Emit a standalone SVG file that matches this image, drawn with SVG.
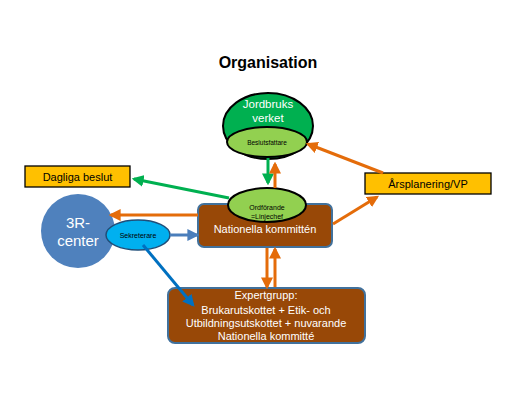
<svg xmlns="http://www.w3.org/2000/svg" width="520" height="408" viewBox="0 0 520 408">
<defs>
<style>
text{font-family:"Liberation Sans",Arial,sans-serif;text-anchor:middle}
.w{fill:#fff}
.k{fill:#000}
.c{stroke-width:3;fill:none}
.or{stroke:#E46C0A}
.gr{stroke:#00B050}
.bl{stroke:#4A7EBB}
.db{stroke:#0070C0}
.box{fill:#984807;stroke:#41719C;stroke-width:2}
.yb{fill:#FFC000;stroke:#000;stroke-width:1.3}
</style>
<marker id="ao" viewBox="0 0 10 10" refX="8" refY="5" markerWidth="4" markerHeight="4" orient="auto"><path d="M0,0L10,5L0,10z" fill="#E46C0A"/></marker>
<marker id="ag" viewBox="0 0 10 10" refX="8" refY="5" markerWidth="4" markerHeight="4" orient="auto"><path d="M0,0L10,5L0,10z" fill="#00B050"/></marker>
<marker id="ab" viewBox="0 0 10 10" refX="8" refY="5" markerWidth="4" markerHeight="4" orient="auto"><path d="M0,0L10,5L0,10z" fill="#4A7EBB"/></marker>
<marker id="ad" viewBox="0 0 10 10" refX="8" refY="5" markerWidth="4" markerHeight="4" orient="auto"><path d="M0,0L10,5L0,10z" fill="#0070C0"/></marker>
</defs>
<rect width="520" height="408" fill="#fff"/>
<text x="268" y="68" font-size="16" font-weight="bold" class="k">Organisation</text>

<g id="jordbruksverket">
<ellipse cx="268" cy="126" rx="45" ry="33" fill="#00B050" stroke="#000" stroke-width="2"/>
<text x="268" y="108" font-size="11.5" class="w">Jordbruks</text>
<text x="268" y="122" font-size="11.5" class="w">verket</text>
</g>
<g id="beslutsfattare">
<ellipse cx="267" cy="142" rx="40" ry="15" fill="#92D050" stroke="#000" stroke-width="2"/>
<text x="267" y="145" font-size="6.5" class="k">Beslutsfattare</text>
</g>

<g id="dagliga">
<rect class="yb" x="25" y="166" width="105" height="21"/>
<text x="77.5" y="181" font-size="11" class="k">Dagliga beslut</text>
</g>

<g id="arsplanering">
<rect class="yb" x="365" y="173" width="126" height="21"/>
<text x="428" y="188" font-size="11" class="k">Årsplanering/VP</text>
</g>

<g id="center3r">
<circle cx="78" cy="231" r="37" fill="#4F81BD"/>
<text x="78" y="228" font-size="15" class="w">3R-</text>
<text x="78" y="246" font-size="15" class="w">center</text>
</g>

<g id="sekreterare">
<ellipse cx="138" cy="235" rx="32" ry="15" fill="#00B0F0" stroke="#1F4E79" stroke-width="1.5"/>
<text x="138" y="238" font-size="7" class="k">Sekreterare</text>
</g>

<g id="nationella">
<rect class="box" x="198" y="204" width="134" height="43" rx="6"/>
<text x="265" y="233" font-size="11" class="w">Nationella kommittén</text>
</g>

<g id="ordforande">
<ellipse cx="267" cy="205" rx="39" ry="17" fill="#92D050" stroke="#000" stroke-width="2"/>
<text x="267" y="210" font-size="7" class="k">Ordförande</text>
<text x="267" y="219" font-size="7" class="k">=Linjechef</text>
</g>

<g id="expertgrupp">
<rect class="box" x="168" y="288" width="197" height="55" rx="7"/>
<text x="266" y="299" font-size="11" class="w">Expertgrupp:</text>
<text x="266" y="314" font-size="11" class="w">Brukarutskottet + Etik- och</text>
<text x="266" y="327" font-size="11" class="w">Utbildningsutskottet + nuvarande</text>
<text x="266" y="340" font-size="11" class="w">Nationella kommitté</text>
</g>

<g id="connectors">
<line class="c or" x1="198" y1="215" x2="111" y2="215" marker-end="url(#ao)"/>
<line class="c gr" x1="229" y1="198" x2="134" y2="179" marker-end="url(#ag)"/>
<line class="c gr" x1="268" y1="158" x2="268" y2="183" marker-end="url(#ag)"/>
<line class="c or" x1="275" y1="188" x2="275" y2="164" marker-end="url(#ao)"/>
<line class="c or" x1="383" y1="173" x2="308" y2="144" marker-end="url(#ao)"/>
<line class="c or" x1="333" y1="224" x2="377" y2="197" marker-end="url(#ao)"/>
<line class="c or" x1="267" y1="248" x2="267" y2="287" marker-end="url(#ao)"/>
<line class="c or" x1="275" y1="287" x2="275" y2="249" marker-end="url(#ao)"/>
<line class="c bl" x1="170" y1="235" x2="197" y2="235" marker-end="url(#ab)"/>
<line class="c db" x1="143" y1="245" x2="193" y2="305" marker-end="url(#ad)"/>
</g>
</svg>
